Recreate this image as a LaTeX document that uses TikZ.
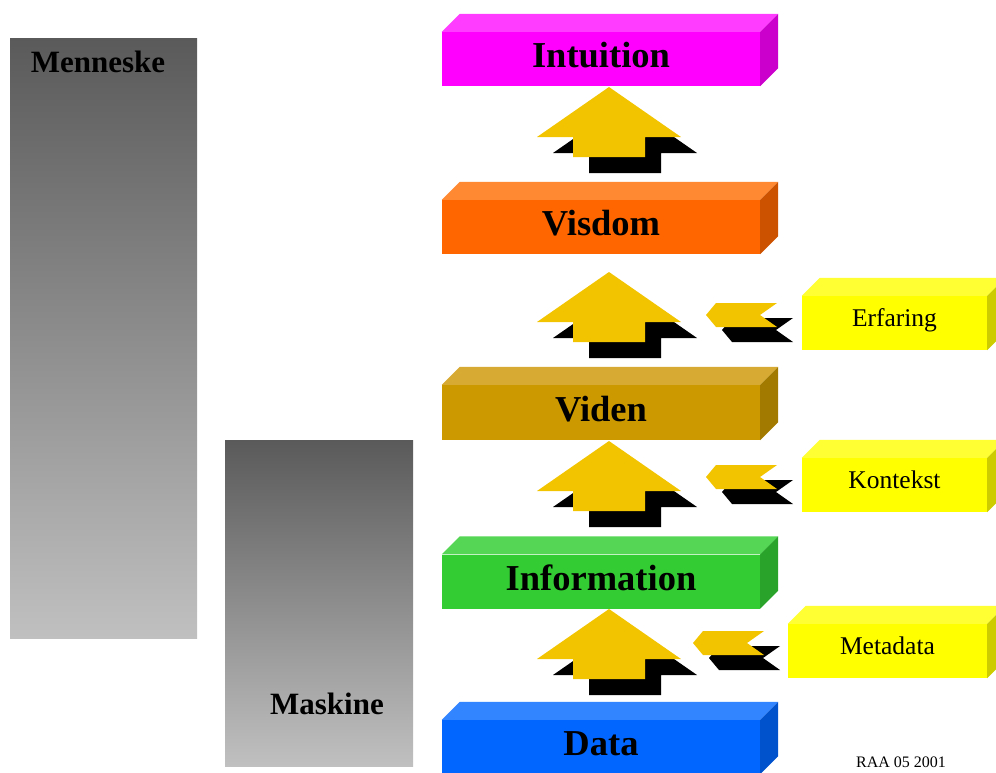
\documentclass[tikz,border=0pt]{standalone}
\usepackage{fontspec}
\setmainfont{Liberation Serif}
\usetikzlibrary{calc}

% face colours of the slabs: front, top, side
\definecolor{magF}{RGB}{255,0,255}
\definecolor{magT}{RGB}{255,60,255}
\definecolor{magS}{RGB}{204,0,204}
\definecolor{oraF}{RGB}{255,102,0}
\definecolor{oraT}{RGB}{255,136,51}
\definecolor{oraS}{RGB}{204,82,0}
\definecolor{vidF}{RGB}{204,153,0}
\definecolor{vidT}{RGB}{214,170,51}
\definecolor{vidS}{RGB}{163,122,0}
\definecolor{grnF}{RGB}{51,204,51}
\definecolor{grnT}{RGB}{85,214,85}
\definecolor{grnS}{RGB}{41,163,41}
\definecolor{bluF}{RGB}{0,102,255}
\definecolor{bluT}{RGB}{51,133,255}
\definecolor{bluS}{RGB}{0,82,204}
\definecolor{yelF}{RGB}{255,255,0}
\definecolor{yelT}{RGB}{255,255,51}
\definecolor{yelS}{RGB}{204,204,0}
\definecolor{flowY}{RGB}{242,196,0}
\definecolor{barDark}{RGB}{90,90,90}
\definecolor{barLight}{RGB}{192,192,192}

% top and right faces of a slab whose front face is node #1
\newcommand\slabfaces[3]{%
  \fill[#2] (#1.north west) -- ++(18,-18) -- ($(#1.north east)+(18,-18)$)
            -- (#1.north east) -- cycle;
  \fill[#3] (#1.north east) -- ++(18,-18) -- ($(#1.south east)+(18,-18)$)
            -- (#1.south east) -- cycle;}

\tikzset{
  slab/.style={inner sep=0pt, minimum width=318pt, minimum height=54pt,
    text height=17pt, text depth=0pt,
    font=\fontsize{36.5}{40}\selectfont\bfseries},
  sidebox/.style={inner sep=0pt, fill=yelF, minimum width=185pt, minimum height=54pt,
    text height=6pt, text depth=0pt,
    font=\fontsize{25.5}{28}\selectfont},
  barlabel/.style={inner sep=0pt, font=\fontsize{31}{34}\selectfont\bfseries},
  greybar/.style={inner sep=0pt, top color=barDark, bottom color=barLight},
  uparrow/.pic={
    \fill[black] (16,16) -- (88,66) -- (52,66) -- (52,86) -- (-20,86)
                 -- (-20,66) -- (-56,66) -- cycle;
    \fill[flowY] (0,0) -- (72,50) -- (36,50) -- (36,70) -- (-36,70)
                 -- (-36,50) -- (-72,50) -- cycle;},
  inarrow/.pic={
    \fill[black] (16,15) -- (26,3) -- (87,3) -- (70,15) -- (87,27)
                 -- (26,27) -- cycle;
    \fill[flowY] (0,0) -- (10,-12) -- (71,-12) -- (54,0) -- (71,12)
                 -- (10,12) -- cycle;}
}

\begin{document}
\begin{tikzpicture}[x=1pt,y=-1pt]
\useasboundingbox (0,0) rectangle (996,772);
\clip (0,0) rectangle (996,772);

% grey bars
\node[greybar, minimum width=187pt, minimum height=600pt] (menneske) at (103.5,338) {};
\node[barlabel] (menneskeTxt) at (98,62) {Menneske};
\node[greybar, minimum width=188pt, minimum height=326pt] (maskine) at (319,603) {};
\node[barlabel] (maskineTxt) at (327,704) {Maskine};

% the stack of slabs
\node[slab, fill=magF] (intuition) at (601,59) {Intuition};
\slabfaces{intuition}{magT}{magS}
\node[slab, fill=oraF] (visdom) at (601,227) {Visdom};
\slabfaces{visdom}{oraT}{oraS}
\node[slab, fill=vidF, minimum height=55pt] (viden) at (601,412.5) {Viden};
\slabfaces{viden}{vidT}{vidS}
\node[slab, fill=grnF] (information) at (601,581.5) {Information};
\slabfaces{information}{grnT}{grnS}
\node[slab, fill=bluF] (data) at (601,747) {Data};
\slabfaces{data}{bluT}{bluS}

% upward flow arrows between the slabs
\pic (upA) at (609,87) {uparrow};
\pic (upB) at (609,272) {uparrow};
\pic (upC) at (609,441) {uparrow};
\pic (upD) at (609,609) {uparrow};

% side inputs
\node[sidebox] (erfaring) at (894.5,323) {Erfaring};
\slabfaces{erfaring}{yelT}{yelS}
\node[sidebox] (kontekst) at (894.5,485) {Kontekst};
\slabfaces{kontekst}{yelT}{yelS}
\node[sidebox, minimum width=199pt] (metadata) at (887.5,651) {Metadata};
\slabfaces{metadata}{yelT}{yelS}

\pic (inA) at (706,315) {inarrow};
\pic (inB) at (706,477) {inarrow};
\pic (inC) at (693,643) {inarrow};

% signature
\node[inner sep=0pt, anchor=base west, font=\fontsize{16}{18}\selectfont]
  (sig) at (856,767) {RAA 05 2001};
\end{tikzpicture}
\end{document}
